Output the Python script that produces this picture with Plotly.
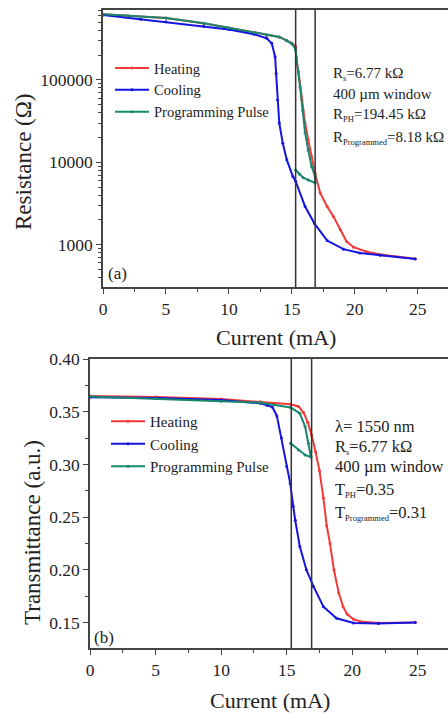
import plotly.graph_objects as go

W, H = 448, 713
FONT = "Liberation Serif"

# ---------------- Panel (a): resistance ----------------
heat_r_x = [0, 2, 5, 8, 10, 12, 13, 14, 14.6, 15.0, 15.3, 15.35, 15.52, 15.8, 16.05, 16.3, 16.57, 16.85,
            17.25, 17.8, 18.3, 18.85, 19.35, 19.9, 20.95, 22.3, 24.8]
heat_r_y = [630000, 600000, 566000, 490000, 428000, 375000, 350000, 333000, 300000, 280000, 255000, 175000,
            126000, 57000, 30000, 18700, 11700, 7300, 4250, 2900, 2190, 1510, 1090, 930, 820, 750, 675]

cool_r_x = [0, 3, 5, 8, 10, 12, 13.0, 13.4, 13.67, 13.75, 13.86, 14.0, 14.28, 14.6, 15.08, 15.3, 16.05,
            16.8, 17.8, 19.1, 20.4, 22, 24.8]
cool_r_y = [615000, 545000, 510000, 450000, 410000, 360000, 321000, 279000, 192000, 120000, 57000, 30000,
            17000, 10700, 6700, 5900, 2900, 1800, 1120, 880, 790, 740, 670]

prog_r_x = [0, 2, 5, 8, 10, 12, 13, 14, 14.6, 15.0, 15.3, 15.35, 15.65, 15.87, 16.05, 16.3, 16.57, 16.85,
            16.85, 16.3, 15.9, 15.6, 15.3]
prog_r_y = [630000, 600000, 566000, 490000, 428000, 375000, 350000, 333000, 300000, 275000, 235000, 192000,
            83000, 43000, 23000, 14000, 8900, 6700, 5600, 6100, 6500, 7200, 8050]

res_ticks = [1000, 10000, 100000]
res_ticktext = ["1000", "10000", "100000"]
vlines_a = [15.3, 16.85]

# ---------------- Panel (b): transmittance ----------------
heat_t_x = [0, 5, 10, 13, 15.3, 15.9, 16.3, 16.6, 16.9, 17.2, 17.5, 17.8, 18.05, 18.3, 18.6, 18.97, 19.3,
            19.6, 20.1, 20.6, 22, 24.8]
heat_t_y = [0.365, 0.364, 0.362, 0.3595, 0.357, 0.355, 0.349, 0.340, 0.328, 0.312, 0.294, 0.268, 0.242,
            0.225, 0.200, 0.178, 0.165, 0.158, 0.153, 0.151, 0.1495, 0.150]

cool_t_x = [0, 5, 10, 13, 13.5, 13.9, 14.25, 14.6, 15.0, 15.27, 15.5, 15.65, 16.0, 16.5, 17.05, 17.8, 18.8,
            20.1, 22, 24.8]
cool_t_y = [0.3636, 0.363, 0.361, 0.358, 0.356, 0.3545, 0.346, 0.325, 0.298, 0.282, 0.260, 0.247, 0.222,
            0.200, 0.184, 0.165, 0.154, 0.1495, 0.149, 0.150]

prog_t_x = [0, 5, 10, 13, 15.3, 16.0, 16.4, 16.65, 16.85, 16.4, 15.9, 15.3]
prog_t_y = [0.3645, 0.3625, 0.360, 0.3585, 0.354, 0.3485, 0.336, 0.320, 0.307, 0.309, 0.3137, 0.320]

vlines_b = [15.35, 16.9]

RED = "#f23a3a"
BLUE = "#1414e0"
GREEN = "#17876e"


def px(x):
    return x / W


def py(y):
    return 1 - y / H


fig = go.Figure()

series = [
    ("Heating", heat_r_x, heat_r_y, RED, "x", "y", "legend"),
    ("Cooling", cool_r_x, cool_r_y, BLUE, "x", "y", "legend"),
    ("Programming Pulse", prog_r_x, prog_r_y, GREEN, "x", "y", "legend"),
    ("Heating", heat_t_x, heat_t_y, RED, "x2", "y2", "legend2"),
    ("Cooling", cool_t_x, cool_t_y, BLUE, "x2", "y2", "legend2"),
    ("Programming Pulse", prog_t_x, prog_t_y, GREEN, "x2", "y2", "legend2"),
]
for name, xs, ys, col, xa, ya, lg in series:
    fig.add_trace(go.Scatter(
        x=xs, y=ys, name=name, mode="lines+markers",
        line=dict(color=col, width=2),
        marker=dict(color=col, size=3),
        xaxis=xa, yaxis=ya, legend=lg,
    ))

for v in vlines_a:
    fig.add_shape(type="line", xref="x", yref="y domain", x0=v, x1=v, y0=0, y1=1,
                  line=dict(color="#333333", width=1.5))
for v in vlines_b:
    fig.add_shape(type="line", xref="x2", yref="y2 domain", x0=v, x1=v, y0=0, y1=1,
                  line=dict(color="#333333", width=1.5))

axis_common = dict(
    showline=True, linecolor="#444444", linewidth=1.5,
    ticks="outside", ticklen=5, tickwidth=1.2, tickcolor="#444444",
    showgrid=False, zeroline=False, automargin=False,
    tickfont=dict(family=FONT, size=17.5, color="#222222"),
)

fig.update_layout(
    width=W, height=H,
    margin=dict(l=0, r=0, t=0, b=0, pad=0, autoexpand=False),
    paper_bgcolor="white", plot_bgcolor="white",
    font=dict(family=FONT, color="#222222"),
    xaxis=dict(domain=[px(103), 1], range=[0, 27.4], dtick=5, anchor="y", mirror=True,
               minor=dict(ticks="outside", dtick=2.5, ticklen=3, tickcolor="#444444"),
               **axis_common),
    yaxis=dict(domain=[py(287), py(10)], type="log", range=[2.485, 5.85], anchor="x",
               tickvals=res_ticks, ticktext=res_ticktext,
               minor=dict(ticks="outside", ticklen=3, tickcolor="#444444", dtick="D1"),
               **axis_common),
    xaxis2=dict(domain=[px(90), 1], range=[0, 27.3], dtick=5, anchor="y2", mirror=True,
                minor=dict(ticks="outside", dtick=2.5, ticklen=3, tickcolor="#444444"),
                **axis_common),
    yaxis2=dict(domain=[py(648.3), py(359)], range=[0.1255, 0.40], dtick=0.05, tickformat=".2f",
                anchor="x2",
                minor=dict(ticks="outside", dtick=0.025, ticklen=3, tickcolor="#444444"),
                **axis_common),
    legend=dict(x=px(110), y=py(52), xanchor="left", yanchor="top", bgcolor="rgba(0,0,0,0)",
                font=dict(family=FONT, size=14.5, color="#222222"), itemwidth=34, tracegroupgap=0),
    legend2=dict(x=px(106), y=py(405), xanchor="left", yanchor="top", bgcolor="rgba(0,0,0,0)",
                 font=dict(family=FONT, size=15, color="#222222"), itemwidth=34, tracegroupgap=0),
    showlegend=True,
)

ann = []


def add_text(text, x, y, size, angle=0, xanchor="left"):
    ann.append(dict(text=text, x=px(x), y=py(y), xref="paper", yref="paper", showarrow=False,
                    xanchor=xanchor, yanchor="middle", textangle=angle,
                    font=dict(family=FONT, size=size, color="#222222")))


SUB = "<sub><span style='font-size:8.5px'>%s</span></sub>"

# axis titles
add_text("Current (mA)", 276, 337, 22, xanchor="center")
add_text("Current (mA)", 270, 700, 22, xanchor="center")
add_text("Resistance (Ω)", 23, 162, 23, angle=-90, xanchor="center")
add_text("Transmittance (a.u.)", 32, 533, 23, angle=-90, xanchor="center")

# panel labels
add_text("(a)", 106, 273, 17)
add_text("(b)", 92, 637, 17)

# info texts panel a
info_a = ["R" + SUB % "s" + "=6.77 kΩ", "400 µm window", "R" + SUB % "PH" + "=194.45 kΩ",
          "R" + SUB % "Programmed" + "=8.18 kΩ"]
ys_a = [74, 94, 115, 138]
for t, yy in zip(info_a, ys_a):
    add_text(t, 331, yy, 15)

info_b = ["λ= 1550 nm", "R" + SUB % "s" + "=6.77 kΩ", "400 µm window", "T" + SUB % "PH" + "=0.35",
          "T" + SUB % "Programmed" + "=0.31"]
ys_b = [426, 447, 467, 490, 513]
for t, yy in zip(info_b, ys_b):
    add_text(t, 333, yy, 16.5)

fig.update_layout(annotations=ann)

fig.write_html("out.html")
